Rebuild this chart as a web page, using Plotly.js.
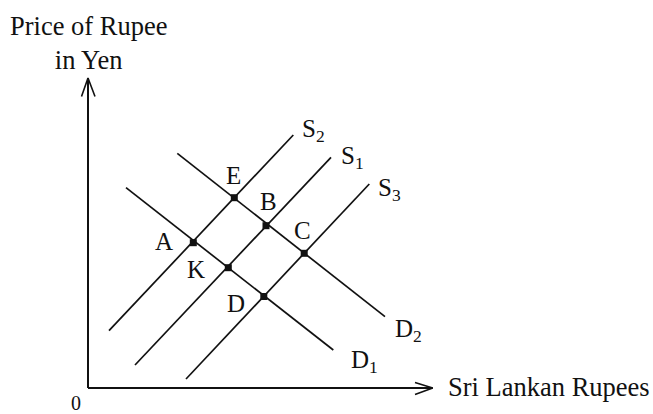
<!DOCTYPE html>
<html>
<head>
<meta charset="utf-8">
<script src="https://cdn.plot.ly/plotly-3.0.1.min.js"></script>
<style>
  html, body { margin: 0; padding: 0; background: #ffffff; }
  #chart { width: 653px; height: 414px; }
</style>
</head>
<body>
<div id="chart"></div>
<script>
// ---- data (diagram units) ----
const supplyNames = ['S<sub>2</sub>', 'S<sub>1</sub>', 'S<sub>3</sub>'];
const supplyStartX = [2.1, 4.7, 9.8];
const supplyStartY = [5.73, 2.3, 0.9];
const supplyEndX = [20.53, 24.3, 28.13];
const supplyEndY = [25.3, 23.07, 20.4];

const demandNames = ['D<sub>2</sub>', 'D<sub>1</sub>'];
const demandStartX = [8.93, 3.8];
const demandStartY = [23.47, 20.03];
const demandEndX = [29.7, 24.53];
const demandEndY = [7.13, 3.8];

const pointNames = ['E', 'B', 'C', 'A', 'K', 'D'];
const pointX = [14.63, 17.8, 21.62, 10.53, 14.03, 17.58];
const pointY = [19.03, 16.23, 13.47, 14.53, 12.03, 9.15];

const axisXMax = 34.47;
const axisYMax = 31.0;
const xAxisTitle = 'Sri Lankan Rupees';
const yAxisTitle = 'Price of Rupee<br>in Yen';
const originLabel = '0';

// ---- styling / placement ----
const FONT = '"Liberation Serif", "Times New Roman", serif';
const INK = '#111111';
const labelFont = { family: FONT, size: 25, color: INK };

// pixel offsets of labels relative to their anchor (line end or point)
const supplyLabelShift = [[15, -8.3], [16, -3.8], [14.6, 1.5]];
const demandLabelShift = [[17.5, 9.3], [25.9, 7.5]];
const pointLabelShift = [[-0.5, -22.4], [2.3, -24.4], [-2.2, -23], [-29.1, -1.7], [-32.1, 1.8], [-28, 6.8]];

const traces = [];
const annotations = [];

// axes with chevron arrowheads
traces.push({
  x: [0, 0, null, 0, axisXMax],
  y: [axisYMax, 0, null, 0, 0],
  mode: 'lines', line: { color: INK, width: 2 }, hoverinfo: 'skip'
});
traces.push({
  x: [-0.65, 0, 0.7, null, axisXMax - 1.77, axisXMax, axisXMax - 1.77],
  y: [axisYMax - 1.85, axisYMax, axisYMax - 1.85, null, 0.55, 0, -0.65],
  mode: 'lines', line: { color: INK, width: 1.6 }, hoverinfo: 'skip'
});

// supply curves
for (let i = 0; i < supplyNames.length; i++) {
  traces.push({
    x: [supplyStartX[i], supplyEndX[i]], y: [supplyStartY[i], supplyEndY[i]],
    mode: 'lines', line: { color: INK, width: 1.7 }, hoverinfo: 'skip'
  });
  annotations.push({
    x: supplyEndX[i], y: supplyEndY[i], xref: 'x', yref: 'y',
    text: supplyNames[i], showarrow: false, font: labelFont,
    xanchor: 'left', yanchor: 'middle',
    xshift: supplyLabelShift[i][0] - 8, yshift: -supplyLabelShift[i][1] - 4
  });
}

// demand curves
for (let i = 0; i < demandNames.length; i++) {
  traces.push({
    x: [demandStartX[i], demandEndX[i]], y: [demandStartY[i], demandEndY[i]],
    mode: 'lines', line: { color: INK, width: 1.7 }, hoverinfo: 'skip'
  });
  annotations.push({
    x: demandEndX[i], y: demandEndY[i], xref: 'x', yref: 'y',
    text: demandNames[i], showarrow: false, font: labelFont,
    xanchor: 'left', yanchor: 'middle',
    xshift: demandLabelShift[i][0] - 10, yshift: -demandLabelShift[i][1] - 4
  });
}

// equilibrium points
traces.push({
  x: pointX, y: pointY, mode: 'markers',
  marker: { symbol: 'square', size: 7, color: INK },
  hoverinfo: 'skip'
});
for (let i = 0; i < pointNames.length; i++) {
  annotations.push({
    x: pointX[i], y: pointY[i], xref: 'x', yref: 'y',
    text: pointNames[i], showarrow: false, font: labelFont,
    xanchor: 'center', yanchor: 'middle',
    xshift: pointLabelShift[i][0], yshift: -pointLabelShift[i][1]
  });
}

// axis titles and origin
annotations.push({
  x: 0, y: 0, xref: 'x', yref: 'y', text: yAxisTitle, showarrow: false,
  font: { family: FONT, size: 26.5, color: INK }, align: 'center',
  xanchor: 'center', yanchor: 'middle', yshift: 345
});
annotations.push({
  x: axisXMax, y: 0, xref: 'x', yref: 'y', text: xAxisTitle, showarrow: false,
  font: { family: FONT, size: 26.5, color: INK },
  xanchor: 'left', yanchor: 'middle', xshift: 13, yshift: 1
});
annotations.push({
  x: 0, y: 0, xref: 'x', yref: 'y', text: originLabel, showarrow: false,
  font: { family: FONT, size: 20, color: INK },
  xanchor: 'center', yanchor: 'middle', xshift: -12, yshift: -15
});

const layout = {
  width: 653, height: 414,
  margin: { l: 0, r: 0, t: 0, b: 0 },
  paper_bgcolor: '#ffffff', plot_bgcolor: '#ffffff',
  showlegend: false,
  xaxis: { range: [-8.8, 56.5], visible: false, fixedrange: true },
  yaxis: { range: [-2.6, 38.8], visible: false, fixedrange: true },
  annotations: annotations
};

Plotly.newPlot('chart', traces, layout, { staticPlot: true, displayModeBar: false });
</script>
</body>
</html>
